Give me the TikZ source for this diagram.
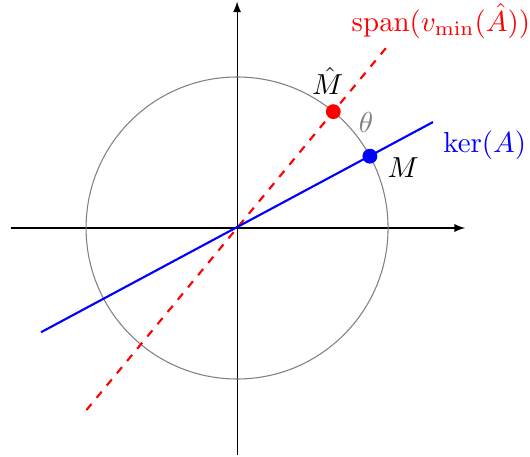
\documentclass[tikz,border=0pt]{standalone}
\usetikzlibrary{arrows}
\begin{document}
\begin{tikzpicture}[
  axis/.style={-latex, black},
  dotstyle/.style={circle, inner sep=0pt, minimum size=5.6pt},
  lbl/.style={scale=1.09}
]
\useasboundingbox (-3.14,-3.02) rectangle (3.88,3.02);
\coordinate (O) at (0,0);
\coordinate (xl) at (-3.0,0);
\coordinate (xr) at (3.02,0);
\coordinate (yb) at (0,-3.0);
\coordinate (yt) at (0,3.0);
\draw[axis] (xl) -- (xr);
\draw[axis] (yb) -- (yt);
\draw[gray] (O) circle (2);
\coordinate (b1) at (208:2.94);
\coordinate (b2) at (28.4:2.95);
\coordinate (r1) at (230.4:3.13);
\coordinate (r2) at (50.4:3.16);
\draw[red, thick, dashed] (r1) -- (r2);
\draw[blue, thick] (b1) -- (b2);
\node[dotstyle, fill=red] (Mh) at (50.4:2) {};
\node[dotstyle, fill=blue] (M) at (28.4:2) {};
\node[lbl, red] (spanlbl) at (2.7,2.74) {$\mathrm{span}(v_{\min}(\hat{A}))$};
\node[lbl, blue] (kerlbl) at (3.28,1.09) {$\ker(A)$};
\node[lbl] (Mlbl) at (2.2,0.8) {$M$};
\node[lbl] (Mhlbl) at (1.2,1.95) {$\hat{M}$};
\node[lbl, gray] (th) at (1.71,1.40) {$\theta$};
\end{tikzpicture}
\end{document}
